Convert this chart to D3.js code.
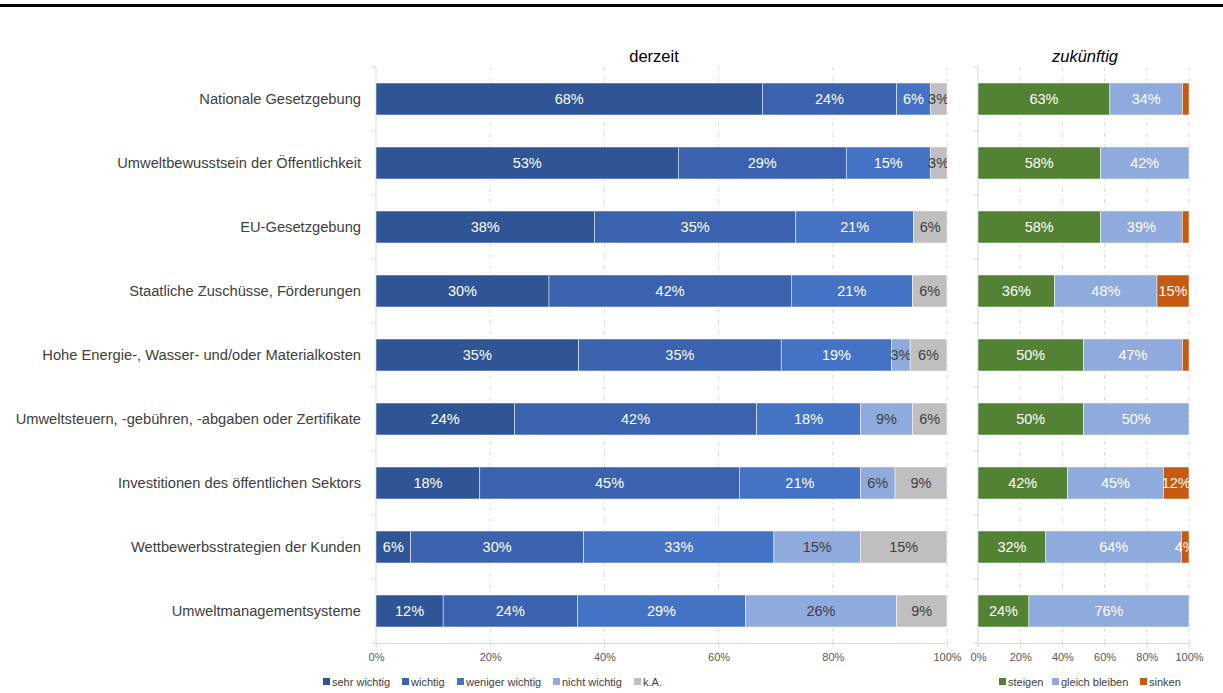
<!DOCTYPE html>
<html><head><meta charset="utf-8">
<script src="https://cdn.jsdelivr.net/npm/d3@7/dist/d3.min.js"></script>
<style>body{margin:0;background:#fff;font-family:"Liberation Sans",Arial,sans-serif}</style>
</head><body><svg id="c" width="1223" height="693"></svg>
<script>
const categories = ["Nationale Gesetzgebung","Umweltbewusstsein der Öffentlichkeit","EU-Gesetzgebung","Staatliche Zuschüsse, Förderungen","Hohe Energie-, Wasser- und/oder Materialkosten","Umweltsteuern, -gebühren, -abgaben oder Zertifikate","Investitionen des öffentlichen Sektors","Wettbewerbsstrategien der Kunden","Umweltmanagementsysteme"];
const nowSeries = ["sehr wichtig","wichtig","weniger wichtig","nicht wichtig","k.A."];
const sehrWichtig    = [67.65,52.94,38.24,30.30,35.48,24.24,18.18,6.06,11.76];
const wichtig        = [23.53,29.41,35.29,42.42,35.48,42.42,45.45,30.30,23.53];
const wenigerWichtig = [5.88,14.71,20.59,21.21,19.35,18.18,21.21,33.33,29.41];
const nichtWichtig   = [0,0,0,0,3.23,9.09,6.06,15.15,26.47];
const keineAngabe    = [2.94,2.94,5.88,6.06,6.45,6.06,9.09,15.15,8.82];
const futSeries = ["steigen","gleich bleiben","sinken"];
const steigen       = [62.50,58.06,58.06,36.36,50.00,50.00,42.42,32.14,24.14];
const gleichBleiben = [34.38,41.94,38.71,48.48,46.88,50.00,45.45,64.29,75.86];
const sinken        = [3.13,0,3.23,15.15,3.13,0,12.12,3.57,0];
const futShowLabel  = [[1,1,0],[1,1,0],[1,1,0],[1,1,1],[1,1,0],[1,1,0],[1,1,1],[1,1,1],[1,1,0]];
const tickValues = [0,20,40,60,80,100];

const nowColors = ["#2F5597","#3A62AE","#4472C4","#8FAADC","#BFBFBF"];
const nowLabelColors = ["#fff","#fff","#fff","#404040","#404040"];
const futColors = ["#548235","#8FAADC","#C55A11"];

const svg = d3.select("#c");
svg.append("rect").attr("x",0).attr("y",4).attr("width",1223).attr("height",3).attr("fill","#000");

const plotTop = 67, plotBottom = 643;
const y = d3.scaleBand().domain(categories).range([plotTop,plotBottom]).paddingInner(0.5).paddingOuter(0.25);
const fmt = v => Math.round(v) + "%";

function panel(x0,x1,seriesNames,arrays,colors,labelColors,showFn,title,titleX,italic,clipId){
  const x = d3.scaleLinear().domain([0,100]).range([x0,x1]);
  const g = svg.append("g");
  g.selectAll("line.grid").data(tickValues.slice(1)).join("line")
    .attr("x1",d=>x(d)).attr("x2",d=>x(d)).attr("y1",plotTop).attr("y2",plotBottom)
    .attr("stroke","#d9d9d9").attr("stroke-width",1).attr("stroke-dasharray","4,3,1,3");
  const ax = g.append("g").attr("transform",`translate(0,${plotBottom})`)
    .call(d3.axisBottom(x).tickValues(tickValues).tickFormat(d=>d+"%").tickSize(4).tickPadding(6));
  ax.select(".domain").attr("stroke","#d9d9d9");
  ax.selectAll(".tick line").attr("stroke","#d9d9d9");
  ax.selectAll("text").attr("fill","#595959").attr("font-size","11px").attr("font-family","Liberation Sans, Arial, sans-serif");
  g.append("line").attr("x1",x0).attr("x2",x0).attr("y1",plotTop).attr("y2",plotBottom+4).attr("stroke","#d9d9d9");
  const bounds = categories.map((c,i)=>plotTop + i*(plotBottom-plotTop)/categories.length).concat([plotBottom]);
  g.selectAll("line.yt").data(bounds).join("line")
    .attr("x1",x0-5).attr("x2",x0).attr("y1",d=>d).attr("y2",d=>d).attr("stroke","#d9d9d9");
  svg.append("clipPath").attr("id",clipId).append("rect").attr("x",x0).attr("y",plotTop).attr("width",x1-x0).attr("height",plotBottom-plotTop);
  const bars = svg.append("g").attr("clip-path",`url(#${clipId})`);
  categories.forEach((c,i)=>{
    let cum = 0;
    seriesNames.forEach((s,j)=>{
      const v = arrays[j][i];
      const a = cum; cum += v;
      if(v<=0) return;
      bars.append("rect").attr("x",x(a)).attr("y",y(c)).attr("width",x(cum)-x(a)).attr("height",y.bandwidth())
        .attr("fill",colors[j]).attr("stroke","#fff").attr("stroke-width",0.5);
      if(showFn(i,j)){
        bars.append("text").attr("x",(x(a)+x(cum))/2).attr("y",y(c)+y.bandwidth()/2).attr("dy","0.36em")
          .attr("text-anchor","middle").attr("font-size","14.5px").attr("fill",labelColors[j]).text(fmt(v));
      }
    });
  });
  svg.append("text").attr("x",titleX).attr("y",62).attr("text-anchor","middle")
    .attr("font-size","16.5px").attr("fill","#000").attr("font-style",italic?"italic":"normal").text(title);
  return x;
}

panel(376,947,nowSeries,[sehrWichtig,wichtig,wenigerWichtig,nichtWichtig,keineAngabe],nowColors,nowLabelColors,(i,j)=>true,"derzeit",654,false,"clipL");
panel(978,1189,futSeries,[steigen,gleichBleiben,sinken],futColors,["#fff","#fff","#fff"],(i,j)=>futShowLabel[i][j]===1,"zukünftig",1085,true,"clipR");

svg.append("g").selectAll("text").data(categories).join("text")
  .attr("x",361).attr("y",d=>y(d)+y.bandwidth()/2).attr("dy","0.36em").attr("text-anchor","end")
  .attr("font-size","14.7px").attr("fill","#404040").text(d=>d);

function legend(items,colors,xs){
  const g = svg.append("g");
  items.forEach((t,i)=>{
    g.append("rect").attr("x",xs[i]).attr("y",678).attr("width",7).attr("height",7).attr("fill",colors[i]);
    g.append("text").attr("x",xs[i]+9).attr("y",685.5).attr("font-size","11px").attr("fill","#404040").text(t);
  });
}
legend(nowSeries,nowColors,[323,402,457,553,634]);
legend(futSeries,futColors,[999,1052,1140]);
</script></body></html>
